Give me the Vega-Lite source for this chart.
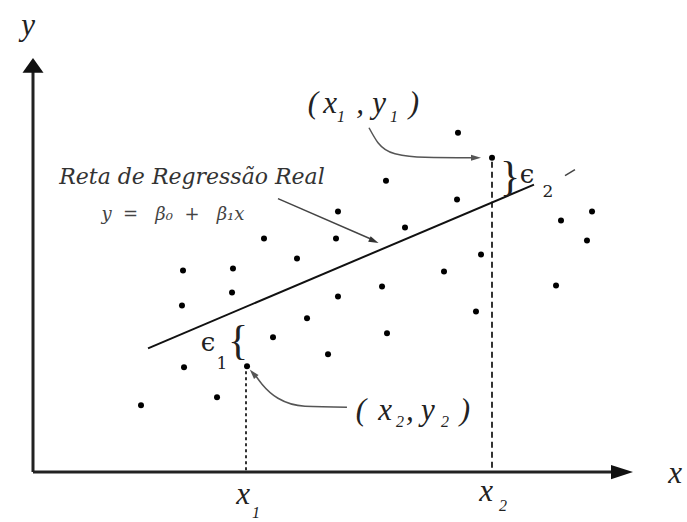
{
  "$schema": "https://vega.github.io/schema/vega-lite/v6.json",
  "width": 687,
  "height": 522,
  "autosize": {"type": "fit", "contains": "padding"},
  "padding": 0,
  "background": "white",
  "config": {"view": {"stroke": null}},
  "datasets": {
    "points": [
      {"x": 70.83, "y": 56.67}, {"x": 76.5, "y": 52.5}, {"x": 58.83, "y": 48.67},
      {"x": 50.83, "y": 43.5}, {"x": 70.67, "y": 45.5}, {"x": 62, "y": 40.83},
      {"x": 88, "y": 42}, {"x": 93.17, "y": 43.5}, {"x": 92.33, "y": 38.67},
      {"x": 38.5, "y": 39}, {"x": 44, "y": 35.67}, {"x": 25, "y": 33.67},
      {"x": 33.33, "y": 34}, {"x": 33.17, "y": 30}, {"x": 24.83, "y": 27.83},
      {"x": 50.83, "y": 29.33}, {"x": 58.17, "y": 31}, {"x": 68.5, "y": 33.5},
      {"x": 74.67, "y": 36.33}, {"x": 87.17, "y": 31.17}, {"x": 73.83, "y": 26.83},
      {"x": 45.67, "y": 25.67}, {"x": 59, "y": 23.17}, {"x": 40, "y": 22.5},
      {"x": 49.17, "y": 19.67}, {"x": 25.17, "y": 17.5}, {"x": 35.67, "y": 17.67},
      {"x": 30.67, "y": 12.5}, {"x": 18, "y": 11.17}, {"x": 50.5, "y": 39}
    ],
    "segments": [
      {"kind": "axis", "x": 0, "y": 0, "x2": 97, "y2": 0},
      {"kind": "axis", "x": 0, "y": 0, "x2": 0, "y2": 67},
      {"kind": "regression", "x": 19.17, "y": 20.67, "x2": 83.5, "y2": 48},
      {"kind": "pointer", "x": 40.83, "y": 45.67, "x2": 56.5, "y2": 38.83},
      {"kind": "pointer", "x": 88.67, "y": 49.5, "x2": 90.33, "y2": 50.5},
      {"kind": "guide1", "x": 35.5, "y": 16.83, "x2": 35.5, "y2": 0},
      {"kind": "guide2", "x": 76.5, "y": 51.83, "x2": 76.5, "y2": 0}
    ],
    "curves": [
      {"g": "c1", "x": 56, "y": 57.5}, {"g": "c1", "x": 57.5, "y": 55},
      {"g": "c1", "x": 60.33, "y": 53.17}, {"g": "c1", "x": 65.33, "y": 52.58},
      {"g": "c1", "x": 73.17, "y": 52.5},
      {"g": "c2", "x": 52.33, "y": 10.83}, {"g": "c2", "x": 45.33, "y": 11},
      {"g": "c2", "x": 40.83, "y": 12.33}, {"g": "c2", "x": 38.17, "y": 14.67},
      {"g": "c2", "x": 37.17, "y": 16}
    ],
    "heads": [
      {"kind": "xaxis", "x": 98.17, "y": 0},
      {"kind": "yaxis", "x": 0, "y": 67.93},
      {"kind": "c1", "x": 73.83, "y": 52.5},
      {"kind": "c2", "x": 36.67, "y": 16.5},
      {"kind": "pointer", "x": 56.83, "y": 38.58}
    ],
    "labels": [
      {"kind": "big", "x": 46.67, "y": 60, "text": "("},
      {"kind": "big", "x": 49.5, "y": 60, "text": "x"},
      {"kind": "big", "x": 54.5, "y": 60, "text": ","},
      {"kind": "big", "x": 57.67, "y": 60, "text": "y"},
      {"kind": "big", "x": 63.5, "y": 60, "text": ")"},
      {"kind": "big", "x": 54.67, "y": 8.67, "text": "("},
      {"kind": "big", "x": 58.67, "y": 8.67, "text": "x"},
      {"kind": "big", "x": 62.83, "y": 8.67, "text": ","},
      {"kind": "big", "x": 65.83, "y": 8.67, "text": "y"},
      {"kind": "big", "x": 72, "y": 8.67, "text": ")"},
      {"kind": "big", "x": 35, "y": -5.33, "text": "x"},
      {"kind": "big", "x": 75.5, "y": -4.83, "text": "x"},
      {"kind": "big", "x": 107, "y": -1.83, "text": "x"},
      {"kind": "big", "x": -0.83, "y": 73, "text": "y"},
      {"kind": "sub", "x": 51.33, "y": 58.5, "text": "1"},
      {"kind": "sub", "x": 60.17, "y": 58.5, "text": "1"},
      {"kind": "sub", "x": 61.17, "y": 7.5, "text": "2"},
      {"kind": "sub", "x": 68.67, "y": 7.5, "text": "2"},
      {"kind": "sub", "x": 37.17, "y": -7.67, "text": "1"},
      {"kind": "sub", "x": 78.33, "y": -6.5, "text": "2"},
      {"kind": "eps", "x": 29.17, "y": 20.17, "text": "ϵ"},
      {"kind": "eps", "x": 82.33, "y": 48.33, "text": "ϵ"},
      {"kind": "epssub", "x": 31.5, "y": 17.17, "text": "1"},
      {"kind": "epssub", "x": 85.83, "y": 46, "text": "2"},
      {"kind": "brace", "x": 34.17, "y": 21.83, "text": "{"},
      {"kind": "brace", "x": 79.5, "y": 49.33, "text": "}"},
      {"kind": "title", "x": 26.5, "y": 49.33, "text": "Reta de Regressão Real"},
      {"kind": "formula", "x": 23.33, "y": 43, "text": "y\u00a0\u00a0=\u00a0\u00a0\u00a0β₀\u00a0\u00a0+\u00a0\u00a0\u00a0β₁x"}
    ]
  },
  "encoding": {
    "x": {"field": "x", "type": "quantitative", "scale": {"domain": [-5.5, 109], "nice": false, "zero": false}, "axis": null},
    "y": {"field": "y", "type": "quantitative", "scale": {"domain": [-8.1667, 78.8333], "nice": false, "zero": false}, "axis": null}
  },
  "layer": [
    {
      "data": {"name": "segments"},
      "transform": [{"filter": "datum.kind === 'guide1'"}],
      "mark": {"type": "rule", "color": "#333", "strokeWidth": 2, "strokeDash": [3, 3]},
      "encoding": {"x2": {"field": "x2"}, "y2": {"field": "y2"}}
    },
    {
      "data": {"name": "segments"},
      "transform": [{"filter": "datum.kind === 'guide2'"}],
      "mark": {"type": "rule", "color": "#333", "strokeWidth": 2, "strokeDash": [6, 4]},
      "encoding": {"x2": {"field": "x2"}, "y2": {"field": "y2"}}
    },
    {
      "data": {"name": "segments"},
      "transform": [{"filter": "datum.kind === 'axis'"}],
      "mark": {"type": "rule", "color": "#222", "strokeWidth": 3},
      "encoding": {"x2": {"field": "x2"}, "y2": {"field": "y2"}}
    },
    {
      "data": {"name": "segments"},
      "transform": [{"filter": "datum.kind === 'regression'"}],
      "mark": {"type": "rule", "color": "#111", "strokeWidth": 2},
      "encoding": {"x2": {"field": "x2"}, "y2": {"field": "y2"}}
    },
    {
      "data": {"name": "segments"},
      "transform": [{"filter": "datum.kind === 'pointer'"}],
      "mark": {"type": "rule", "color": "#444", "strokeWidth": 1.5},
      "encoding": {"x2": {"field": "x2"}, "y2": {"field": "y2"}}
    },
    {
      "data": {"name": "curves"},
      "mark": {"type": "line", "color": "#555", "strokeWidth": 1.5, "interpolate": "monotone"},
      "encoding": {"detail": {"field": "g"}}
    },
    {
      "data": {"name": "heads"},
      "transform": [{"filter": "datum.kind === 'xaxis'"}],
      "mark": {"type": "point", "filled": true, "opacity": 1, "color": "#111", "shape": "M-1,-0.65L1,0L-1,0.65Z", "size": 484}
    },
    {
      "data": {"name": "heads"},
      "transform": [{"filter": "datum.kind === 'yaxis'"}],
      "mark": {"type": "point", "filled": true, "opacity": 1, "color": "#111", "shape": "M-1,0.7L0,-0.7L1,0.7Z", "size": 441}
    },
    {
      "data": {"name": "heads"},
      "transform": [{"filter": "datum.kind === 'c1'"}],
      "mark": {"type": "point", "filled": true, "opacity": 1, "color": "#555", "shape": "M-1,-0.6L1,0L-1,0.6Z", "size": 100, "angle": 0}
    },
    {
      "data": {"name": "heads"},
      "transform": [{"filter": "datum.kind === 'c2'"}],
      "mark": {"type": "point", "filled": true, "opacity": 1, "color": "#555", "shape": "M-1,-0.6L1,0L-1,0.6Z", "size": 100, "angle": 229}
    },
    {
      "data": {"name": "heads"},
      "transform": [{"filter": "datum.kind === 'pointer'"}],
      "mark": {"type": "point", "filled": true, "opacity": 1, "color": "#333", "shape": "M-1,-0.6L1,0L-1,0.6Z", "size": 100, "angle": 24}
    },
    {
      "data": {"name": "points"},
      "mark": {"type": "circle", "color": "#000", "opacity": 1, "size": 36}
    },
    {
      "data": {"name": "labels"},
      "transform": [{"filter": "datum.kind === 'big'"}],
      "mark": {"type": "text", "font": "Liberation Serif", "fontStyle": "italic", "fontSize": 31, "color": "#222", "align": "center", "baseline": "alphabetic"},
      "encoding": {"text": {"field": "text"}}
    },
    {
      "data": {"name": "labels"},
      "transform": [{"filter": "datum.kind === 'sub'"}],
      "mark": {"type": "text", "font": "Liberation Serif", "fontStyle": "italic", "fontSize": 16, "color": "#222", "align": "center", "baseline": "alphabetic"},
      "encoding": {"text": {"field": "text"}}
    },
    {
      "data": {"name": "labels"},
      "transform": [{"filter": "datum.kind === 'eps'"}],
      "mark": {"type": "text", "font": "DejaVu Serif", "fontSize": 26, "color": "#222", "align": "center", "baseline": "alphabetic"},
      "encoding": {"text": {"field": "text"}}
    },
    {
      "data": {"name": "labels"},
      "transform": [{"filter": "datum.kind === 'epssub'"}],
      "mark": {"type": "text", "font": "DejaVu Serif", "fontSize": 17, "color": "#222", "align": "center", "baseline": "alphabetic"},
      "encoding": {"text": {"field": "text"}}
    },
    {
      "data": {"name": "labels"},
      "transform": [{"filter": "datum.kind === 'brace'"}],
      "mark": {"type": "text", "font": "Liberation Serif", "fontSize": 42, "color": "#222", "align": "center", "baseline": "middle"},
      "encoding": {"text": {"field": "text"}}
    },
    {
      "data": {"name": "labels"},
      "transform": [{"filter": "datum.kind === 'title'"}],
      "mark": {"type": "text", "font": "DejaVu Serif", "fontStyle": "italic", "fontSize": 22, "color": "#333", "align": "center", "baseline": "middle"},
      "encoding": {"text": {"field": "text"}}
    },
    {
      "data": {"name": "labels"},
      "transform": [{"filter": "datum.kind === 'formula'"}],
      "mark": {"type": "text", "font": "DejaVu Serif", "fontStyle": "italic", "fontSize": 18, "color": "#444", "align": "center", "baseline": "middle"},
      "encoding": {"text": {"field": "text"}}
    }
  ]
}
